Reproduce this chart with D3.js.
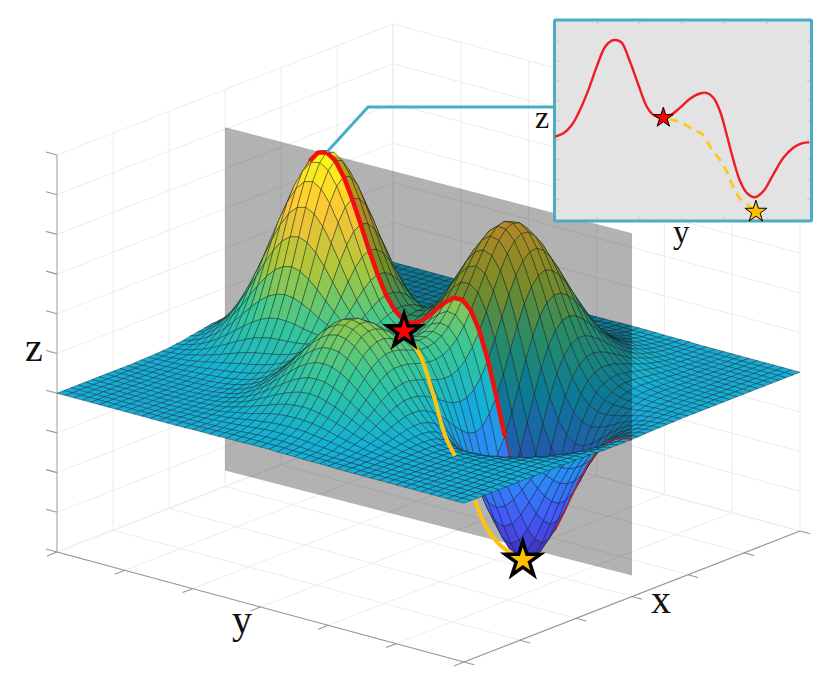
<!DOCTYPE html><html><head><meta charset="utf-8"><script src="https://cdn.jsdelivr.net/npm/d3@7"></script>
<style>html,body{margin:0;background:#fff}svg{display:block}text{font-family:"Liberation Serif";fill:#111}</style></head><body><svg id="c" width="831" height="684"></svg>
<script>
// Surface heights (z x 100): a few bumps were fitted by eye to the silhouettes and the inset curve, then frozen as the literal table below.
const zTable=[
[0,0,0,0,0,0,0,0,0,0,0,0,0,0,0,0,1,1,1,1,2,2,2,3,3,3,2,2,2,1,1,1,1,0,0,0,0,0,0,0,0,0,0,0,0,0,0,0,0],
[0,0,0,0,0,0,0,0,0,0,0,0,0,0,1,1,1,2,2,3,4,4,5,5,5,5,5,4,4,3,2,2,1,1,1,0,0,0,0,0,0,0,0,0,0,0,0,0,0],
[0,0,0,0,0,0,0,0,0,0,0,0,0,1,1,1,2,2,3,4,5,7,8,9,9,9,8,7,5,4,3,2,2,1,1,0,0,0,0,0,0,0,0,0,0,0,0,0,0],
[0,0,0,0,0,0,0,0,0,0,0,0,1,1,2,3,4,6,7,9,11,13,15,16,16,16,15,13,11,9,7,6,4,3,2,1,1,0,0,0,0,0,0,0,0,0,0,0,0],
[0,0,0,0,0,0,0,0,0,0,0,1,1,2,3,5,7,9,12,16,19,22,25,26,27,26,25,22,19,16,12,9,7,5,3,2,1,1,0,0,0,0,0,0,0,0,0,0,0],
[0,0,0,0,0,0,0,0,0,0,1,1,2,3,5,7,11,15,19,24,30,35,39,41,42,41,39,35,30,24,19,15,10,7,5,3,2,1,1,0,0,0,0,0,0,0,0,0,0],
[0,0,0,0,0,0,0,0,0,1,1,2,3,5,7,11,16,22,29,37,44,52,58,61,63,62,58,52,44,37,29,22,16,11,7,4,3,2,1,0,0,0,0,0,0,0,0,0,0],
[0,0,0,0,0,0,0,0,1,1,1,3,4,7,10,16,22,31,41,52,63,73,81,87,89,87,81,73,63,52,41,31,22,15,10,6,4,2,1,0,0,0,0,0,0,0,0,0,0],
[0,0,0,0,0,0,0,1,1,1,2,4,6,9,14,21,30,41,55,69,84,98,109,117,119,117,109,98,84,69,55,41,29,20,13,8,5,2,1,0,0,0,0,0,0,0,0,0,0],
[0,0,0,0,0,1,1,1,2,2,3,5,8,12,18,27,39,53,70,88,107,125,139,148,151,148,139,125,107,88,69,52,37,25,16,10,5,2,1,0,0,0,0,0,0,0,0,0,0],
[0,0,0,1,1,1,2,2,3,4,5,7,11,16,23,34,47,64,85,107,129,150,167,179,182,179,168,151,129,106,84,63,44,30,18,10,5,1,-1,-1,-2,-1,-1,-1,0,0,0,0,0],
[0,0,1,1,2,2,3,4,5,6,8,11,15,21,29,40,56,75,98,123,148,172,191,204,209,205,192,173,149,122,96,71,50,32,19,9,2,-2,-3,-4,-4,-3,-2,-2,-1,-1,0,0,0],
[1,1,1,2,3,4,6,7,9,11,13,17,21,27,35,47,63,84,108,134,161,187,208,222,227,222,209,188,162,134,104,77,52,32,16,5,-3,-8,-9,-9,-8,-6,-5,-3,-2,-1,-1,0,0],
[1,2,3,4,5,8,10,13,16,19,22,26,30,36,44,56,71,91,114,141,168,193,215,229,234,230,217,196,170,140,108,78,51,27,9,-5,-14,-18,-20,-18,-16,-12,-9,-6,-4,-2,-1,-1,0],
[2,3,4,7,9,13,17,22,26,31,36,40,45,50,57,66,79,97,118,142,167,191,211,225,231,228,216,197,171,140,108,75,44,18,-4,-21,-31,-36,-36,-33,-28,-21,-15,-10,-6,-4,-2,-1,0],
[3,5,7,11,16,21,28,35,43,50,57,62,66,70,75,81,90,103,120,139,160,181,199,212,218,217,207,191,167,137,103,68,33,2,-25,-45,-57,-63,-61,-55,-45,-35,-25,-17,-10,-6,-3,-2,-1],
[4,7,11,17,24,33,44,55,67,77,87,93,98,100,101,103,106,112,122,135,150,167,181,193,199,200,194,181,160,132,97,58,18,-20,-53,-78,-93,-99,-95,-85,-70,-53,-38,-25,-16,-9,-5,-3,-1],
[7,11,17,25,36,50,65,82,99,114,127,136,140,140,137,132,128,126,127,132,140,150,161,171,178,181,179,170,153,126,90,46,-1,-48,-88,-120,-139,-145,-138,-122,-101,-77,-55,-37,-23,-13,-7,-4,-2],
[9,15,24,36,51,70,92,116,139,161,178,189,194,191,183,171,158,146,137,132,132,136,142,150,158,164,166,162,148,122,83,34,-22,-78,-128,-167,-191,-198,-188,-166,-136,-104,-75,-50,-31,-18,-10,-5,-2],
[13,21,32,48,69,94,123,155,187,215,238,252,257,251,237,217,194,172,152,138,129,126,128,134,142,151,158,158,147,122,80,24,-40,-107,-168,-216,-245,-252,-240,-212,-174,-133,-95,-63,-39,-23,-12,-6,-3],
[16,26,41,61,87,120,157,198,238,274,303,320,325,317,297,268,235,202,172,147,131,121,120,124,134,145,156,160,151,126,81,20,-54,-131,-202,-258,-293,-302,-288,-254,-209,-160,-114,-76,-47,-28,-15,-8,-4],
[19,32,49,74,106,145,190,239,288,332,366,387,393,382,356,320,277,234,194,161,136,122,118,122,133,147,161,167,161,136,89,22,-58,-144,-224,-288,-328,-339,-324,-286,-235,-180,-129,-86,-54,-31,-17,-9,-4],
[23,36,57,85,122,167,219,275,331,382,421,445,451,438,407,364,314,262,214,174,145,127,121,126,139,156,173,182,178,153,105,36,-50,-141,-228,-298,-342,-357,-342,-303,-250,-192,-137,-91,-57,-33,-18,-9,-4],
[24,40,62,93,133,183,240,301,362,417,460,487,492,478,444,397,341,283,230,186,153,135,129,135,151,171,191,204,201,178,131,61,-26,-121,-211,-285,-333,-351,-338,-301,-249,-191,-137,-91,-57,-33,-18,-9,-4],
[25,41,65,97,138,190,249,313,376,433,478,505,511,496,461,411,353,293,238,192,160,142,138,148,167,192,215,231,232,211,165,97,11,-83,-174,-249,-300,-321,-313,-280,-232,-179,-129,-86,-54,-31,-17,-9,-4],
[25,41,64,95,137,187,246,309,371,428,472,498,504,489,454,405,348,289,236,192,162,147,148,162,186,215,243,263,266,249,207,143,60,-31,-120,-195,-247,-272,-269,-244,-203,-158,-113,-76,-47,-28,-15,-8,-4],
[24,38,60,89,128,175,230,289,348,401,442,467,473,458,426,380,327,273,223,185,159,150,156,175,205,239,272,295,303,290,252,192,115,29,-57,-130,-183,-211,-214,-197,-166,-130,-94,-63,-39,-23,-13,-6,-3],
[21,34,53,80,114,156,205,258,310,357,394,416,421,408,380,339,292,245,203,171,152,149,161,186,221,260,298,326,337,328,296,241,169,89,8,-62,-115,-146,-156,-147,-126,-99,-72,-49,-31,-18,-10,-5,-2],
[18,29,45,67,96,132,173,218,262,302,333,352,356,346,322,288,249,210,176,152,141,144,162,193,233,277,318,350,365,360,332,283,217,142,67,0,-52,-85,-100,-100,-88,-71,-52,-35,-22,-13,-7,-4,-2],
[14,23,36,54,78,106,139,175,211,243,268,283,287,278,259,232,202,172,147,131,127,137,160,195,239,286,330,365,383,381,357,313,253,185,115,52,1,-34,-53,-59,-55,-46,-34,-24,-15,-9,-5,-3,-1],
[11,18,28,41,59,81,106,134,161,185,205,216,219,213,198,178,156,135,118,110,112,127,154,192,238,287,332,368,388,389,369,329,275,212,148,89,41,5,-17,-28,-30,-26,-21,-15,-9,-6,-3,-2,-1],
[8,13,20,30,43,59,77,97,117,135,148,157,159,154,144,130,115,101,92,90,97,115,145,184,230,279,324,360,381,383,366,331,282,224,166,112,66,31,8,-6,-11,-12,-11,-8,-5,-3,-2,-1,0],
[5,9,14,21,30,41,53,67,80,93,102,108,110,107,100,91,81,73,69,72,82,102,132,171,216,263,306,340,361,364,349,318,274,223,170,121,79,46,23,8,0,-3,-4,-4,-3,-2,-1,-1,0],
[4,6,9,14,19,27,35,44,53,61,67,71,72,70,66,60,55,51,51,56,69,89,118,155,196,239,279,311,331,334,322,294,256,210,164,120,82,52,30,16,7,2,0,-1,-1,-1,0,0,0],
[2,4,6,8,12,17,22,27,33,38,42,44,45,44,41,39,36,35,37,44,56,76,103,135,173,211,247,275,293,296,286,262,229,190,149,111,78,51,32,18,9,4,2,1,0,0,0,0,0],
[1,2,3,5,7,10,13,16,19,22,25,26,27,26,25,24,23,23,27,34,46,63,87,115,147,181,211,236,251,254,245,226,197,164,130,98,70,47,30,18,10,5,3,1,0,0,0,0,0],
[1,1,2,3,4,5,7,9,11,13,14,15,15,15,15,14,14,16,19,26,36,51,71,95,122,150,175,195,208,211,204,187,164,137,109,82,59,40,26,16,9,5,3,1,1,0,0,0,0],
[0,1,1,1,2,3,4,5,6,7,7,8,8,8,8,8,9,10,14,19,28,40,56,76,98,120,140,157,167,169,163,150,132,110,88,66,48,33,21,13,8,4,2,1,1,0,0,0,0],
[0,0,1,1,1,1,2,2,3,3,4,4,4,4,4,5,5,7,10,14,21,31,44,59,76,93,109,121,129,131,127,117,102,86,68,52,37,26,17,11,6,4,2,1,0,0,0,0,0],
[0,0,0,0,1,1,1,1,1,2,2,2,2,2,2,3,3,5,7,10,16,23,33,44,57,70,82,91,97,98,95,88,77,64,51,39,28,19,13,8,5,3,1,1,0,0,0,0,0],
[0,0,0,0,0,0,0,1,1,1,1,1,1,1,1,1,2,3,5,7,11,17,24,32,41,51,59,66,70,72,69,64,56,47,37,28,21,14,9,6,3,2,1,1,0,0,0,0,0],
[0,0,0,0,0,0,0,0,0,0,0,0,0,0,1,1,1,2,3,5,8,12,17,22,29,36,42,47,50,50,49,45,39,33,26,20,14,10,7,4,2,1,1,0,0,0,0,0,0],
[0,0,0,0,0,0,0,0,0,0,0,0,0,0,0,0,1,1,2,3,5,8,11,15,20,24,28,32,34,34,33,30,27,22,18,14,10,7,4,3,2,1,1,0,0,0,0,0,0],
[0,0,0,0,0,0,0,0,0,0,0,0,0,0,0,0,0,1,1,2,4,5,7,10,13,16,19,21,22,23,22,20,18,15,12,9,6,4,3,2,1,1,0,0,0,0,0,0,0],
[0,0,0,0,0,0,0,0,0,0,0,0,0,0,0,0,0,1,1,1,2,3,5,6,8,10,12,13,14,14,14,13,11,9,7,6,4,3,2,1,1,0,0,0,0,0,0,0,0],
[0,0,0,0,0,0,0,0,0,0,0,0,0,0,0,0,0,0,1,1,1,2,3,4,5,6,7,8,9,9,9,8,7,6,5,4,3,2,1,1,0,0,0,0,0,0,0,0,0],
[0,0,0,0,0,0,0,0,0,0,0,0,0,0,0,0,0,0,0,1,1,1,2,2,3,4,4,5,5,5,5,5,4,3,3,2,2,1,1,0,0,0,0,0,0,0,0,0,0],
[0,0,0,0,0,0,0,0,0,0,0,0,0,0,0,0,0,0,0,0,1,1,1,1,2,2,3,3,3,3,3,3,2,2,2,1,1,1,0,0,0,0,0,0,0,0,0,0,0],
[0,0,0,0,0,0,0,0,0,0,0,0,0,0,0,0,0,0,0,0,0,0,1,1,1,1,1,2,2,2,2,2,1,1,1,1,0,0,0,0,0,0,0,0,0,0,0,0,0]];
const N=zTable.length-1;
const redA=[0,.033,.066,.098,.131,.164,.197,.223,.24,.262,.295,.328,.361,.387,.426,.459,.492,.531,.570,.596,.623,.649,.675,.701,.728,.754,.786,.819,.858,.898,.937,.970,1];
const redZ=[.17,.34,.76,1.52,2.53,3.72,4.73,5.04,5.07,4.94,3.97,2.79,1.69,1.27,1.13,1.3,1.64,2.09,2.36,2.39,2.14,1.46,.28,-.99,-2.09,-2.68,-2.9,-2.6,-1.75,-.9,-.39,-.17,-.12];
const goldA=[.44,.487,.532,.565,.598],goldB=[.5,.49,.48,.47,.46],goldZ=[1.13,.7,-.28,-1.04,-1.44];
const gold2A=[.656,.68,.713,.759],gold2B=[.45,.45,.455,.467],gold2Z=[-2.36,-2.92,-3.35,-3.64];
const dashY=[.45,.49,.53,.58,.61,.65,.68,.70,.725,.76,.79],dashZ=[1.05,.93,.64,.3,-.34,-1.02,-1.7,-2.37,-2.96,-3.3,-3.64];
const ticks6=d3.range(7).map(k=>k/6),ticksZ=d3.range(-4,7);
const parula=["#3e26a8","#4752f4","#2d87f7","#12b1d6","#37c897","#abc739","#fec338","#f9fb15"];
const color=d3.scaleLinear().domain(d3.range(8).map(k=>-3.64+k*8.71/7)).range(parula).clamp(true);
const xa=d3.scaleLinear([0,1],[0,407]),xb=d3.scaleLinear([0,1],[0,336]),ya=d3.scaleLinear([0,1],[0,110]),yb=d3.scaleLinear([0,1],[0,-131]),yz=d3.scaleLinear([-4,6],[0,-397]);
const P=(a,b,z)=>[57+xa(a)+xb(b),552+ya(a)+yb(b)+yz(z)];
const svg=d3.select("#c");
const line=d3.line();
const add=(pts,st)=>{const p=svg.append("path").attr("d",line(pts)).attr("fill","none");Object.entries(st).forEach(([k,v])=>p.attr(k,v));return p};
const grid={stroke:"#ececee","stroke-width":1};
ticks6.forEach(t=>{add([P(t,0,-4),P(t,1,-4)],grid);add([P(0,t,-4),P(1,t,-4)],grid);add([P(0,t,-4),P(0,t,6)],grid);add([P(t,1,-4),P(t,1,6)],grid)});
ticksZ.forEach(z=>{add([P(0,0,z),P(0,1,z)],grid);add([P(0,1,z),P(1,1,z)],grid)});
const ax={stroke:"#969696","stroke-width":1.1};
add([P(0,0,-4),P(1,0,-4)],ax);add([P(1,0,-4),P(1,1,-4)],ax);add([P(0,0,-4),P(0,0,6)],{stroke:"#c4c4c4","stroke-width":1.6});
ticks6.forEach(t=>{add([P(t,0,-4),P(t,-.03,-4)],ax);add([P(1,t,-4),P(1.025,t,-4)],ax)});
ticksZ.forEach(z=>add([P(0,0,z),P(-.027,0,z)],ax));
function cells(j0,j1,g){for(let j=j1-1;j>=j0;j--)for(let i=0;i<N;i++){const q=[[i,j],[i+1,j],[i+1,j+1],[i,j+1]];const zs=q.map(([u,v])=>zTable[v][u]/100);
 g.append("path").attr("d",line(q.map(([u,v],k)=>P(u/N,v/N,zs[k])))+"Z").attr("fill",color(d3.mean(zs))).attr("stroke","#14242a").attr("stroke-opacity",.7).attr("stroke-width",.6)}}
cells(24,48,svg.append("g"));
svg.append("path").attr("d",line([P(0,.5,-3.6),P(1,.5,-3.47),P(1,.5,5.15),P(0,.5,5.05)])+"Z").attr("fill","#000").attr("fill-opacity",.3);
const rowMid=zTable[24].map((z,i)=>P(i/N,.5,z/100));
add(rowMid,{stroke:"#f01818","stroke-width":2.5});
cells(0,24,svg.append("g"));
add(rowMid.slice(10,34),{stroke:"#f01010","stroke-width":4.5,"stroke-linejoin":"round"});
const gp=(A,B,Z)=>A.map((a,k)=>P(a,B[k],Z[k]));
const cv=d3.line().curve(d3.curveCatmullRom);
svg.append("path").attr("d",cv(gp(goldA,goldB,goldZ))).attr("fill","none").attr("stroke","#fcc314").attr("stroke-width",4);
svg.append("path").attr("d",cv(gp(gold2A,gold2B,gold2Z))).attr("fill","none").attr("stroke","#fcc314").attr("stroke-width",4);
const star=(r)=>d3.symbol(d3.symbolStar,r*r/.8908)();
const mk=(p,r,f,s)=>svg.append("path").attr("d",star(r)).attr("transform",`translate(${p[0]},${p[1]})`).attr("fill",f).attr("stroke","#000").attr("stroke-width",s).attr("stroke-linejoin","miter");
mk(P(.44,.5,1.13),17.5,"#ff0000",3.5);mk(P(.759,.467,-3.64),18.5,"#ffc000",3.5);
add([[327,152],[368,107],[553,107]],{stroke:"#4bacc6","stroke-width":3});
svg.append("rect").attr("x",554.5).attr("y",20).attr("width",257).attr("height",201).attr("fill","#e3e3e3").attr("stroke","#4bacc6").attr("stroke-width",3).attr("rx",1);
const ix=d3.scaleLinear([0,1],[555,809.3]),iz=d3.scaleLinear([-4,6],[218.9,21.7]);
const tk={stroke:"#bdbdbd","stroke-width":.8};
ticks6.slice(1,6).forEach(t=>{add([[ix(t),21],[ix(t),24]],tk);add([[ix(t),220],[ix(t),217]],tk)});
d3.range(-3,6).forEach(z=>{add([[556,iz(z)],[559,iz(z)]],tk);add([[810,iz(z)],[807,iz(z)]],tk)});
const il=d3.line().x((d,k)=>ix(redA[k])).y(d=>iz(d)).curve(d3.curveCatmullRom);
svg.append("path").attr("d",il(redZ)).attr("fill","none").attr("stroke","#ee1c25").attr("stroke-width",2.4);
svg.append("path").attr("d",d3.line()(dashY.map((a,k)=>[ix(a),iz(dashZ[k])]))).attr("fill","none").attr("stroke","#ffc90e").attr("stroke-width",2.6).attr("stroke-dasharray","9 6");
mk([ix(.426),iz(1.13)],10.5,"#ff0000",1);mk([ix(.79),iz(-3.64)],11.5,"#ffc000",1);
[["z",25,361,40],["y",232,633,40],["x",651,613,40],["z",535,128,32],["y",673,243,33]].forEach(t=>svg.append("text").attr("x",t[1]).attr("y",t[2]).attr("font-size",t[3]).text(t[0]));
</script></body></html>
